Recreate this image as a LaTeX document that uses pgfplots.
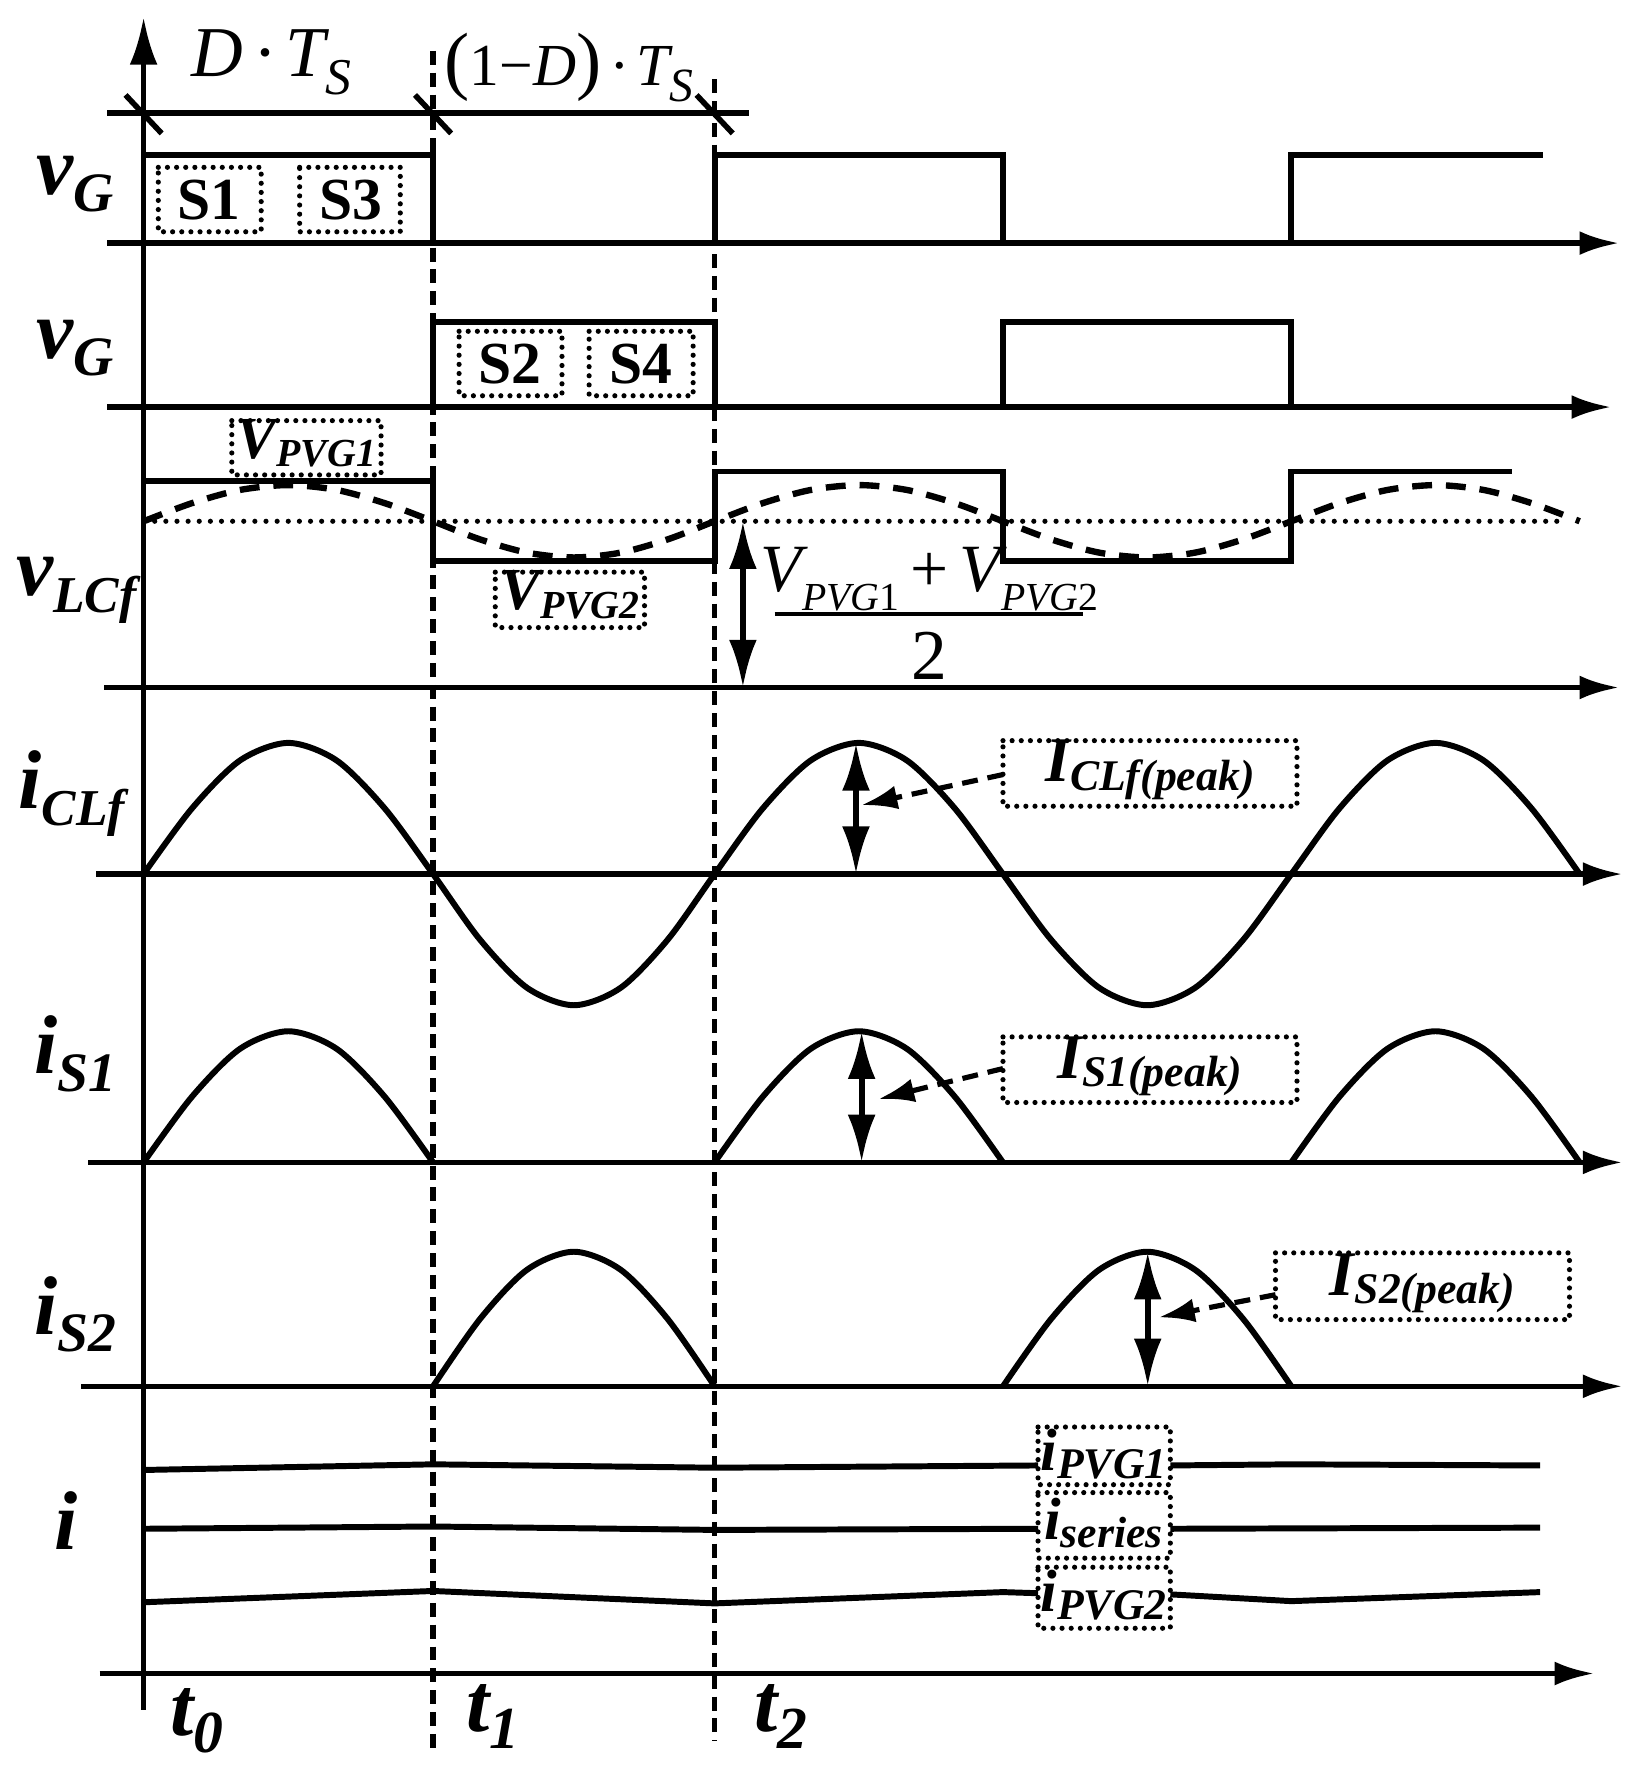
\documentclass[border=0pt]{standalone}
\usepackage{pgfplots}
\pgfplotsset{compat=1.18}
\usetikzlibrary{arrows.meta}
\usepackage{fontspec}
\setmainfont{Liberation Serif}

\newcommand{\fs}[1]{\fontsize{#1}{#1}\selectfont}
% bold italic symbol with lowered subscript
\newcommand{\sym}[4]{{\fs{#1}\bfseries\itshape #3\raisebox{-0.45ex}{\fs{#2}#4}}}
\newcommand{\bsym}[4]{{\fs{#1}\bfseries\itshape #3\raisebox{-0.3ex}{\fs{#2}#4}}}

\begin{document}
\begin{tikzpicture}
\begin{axis}[
    scale only axis,
    width=14.54cm, height=15.68cm,
    xmin=0, xmax=1454, ymin=0, ymax=1568,
    y dir=reverse,
    hide axis, clip=false,
    ax/.style={black, line width=1.4pt},
    wave/.style={black, line width=1.5pt},
    vd/.style={black, line width=1.3pt, dash pattern=on 3.5pt off 2pt},
    dotbox/.style={black, line width=1.3pt, dash pattern=on 0pt off 2.3pt, line cap=round},
    arr/.style={-{Latex[length=10pt,width=6pt]}},
    dbl/.style={black, line width=1.5pt, {Latex[length=12pt,width=7pt]}-{Latex[length=12pt,width=7pt]}},
    ptr/.style={black, line width=1.3pt, dash pattern=on 4pt off 2.5pt, -{Latex[length=9pt,width=6pt]}},
]
\addplot[draw=none] coordinates {(0,0) (1454,1568)};

% main vertical axis and time bar
\addplot[ax, -{Latex[length=12pt,width=7pt]}] coordinates {(127,1512) (127,15)};
\addplot[ax] coordinates {(95,100) (662,100)};
\addplot[ax] coordinates {(111,84) (143,118)};
\addplot[ax] coordinates {(367,84) (399,118)};
\addplot[ax] coordinates {(616,84) (648,118)};

% dashed time markers
\addplot[vd] coordinates {(383,45) (383,1552)};
\addplot[vd] coordinates {(632,70) (632,1540)};

% horizontal axes
\addplot[ax, arr] coordinates {(95,215) (1432,215)};
\addplot[ax, arr] coordinates {(95,360) (1425,360)};
\addplot[ax, arr] coordinates {(92,608) (1432,608)};
\addplot[ax, arr] coordinates {(85,773) (1435,773)};
\addplot[ax, arr] coordinates {(78,1028) (1435,1028)};
\addplot[ax, arr] coordinates {(72,1226) (1435,1226)};
\addplot[ax, arr] coordinates {(88,1480) (1410,1480)};

% gate signals
\addplot[wave] coordinates {(127,137) (383,137) (383,215) (632,215) (632,137) (887,137) (887,215) (1142,215) (1142,137) (1365,137)};
\addplot[wave] coordinates {(383,360) (383,285) (632,285) (632,360) (887,360) (887,285) (1142,285) (1142,360)};

% v_LCf
\addplot[wave] coordinates {(127,425) (383,425) (383,496) (632,496) (632,417) (887,417) (887,496) (1142,496) (1142,417) (1337,417)};
\addplot[black, line width=1.3pt, dash pattern=on 0pt off 2.8pt, line cap=round] coordinates {(127,461) (1380,461)};
\addplot[black, line width=1.6pt, dash pattern=on 5pt off 3.5pt, smooth] coordinates {
(127,461) (169.7,445) (212.3,433.3) (255,429) (297.7,433.3) (340.3,445)
(383,461) (424.5,477) (466,488.7) (507.5,493) (549,488.7) (590.5,477)
(632,461) (674.5,445) (717,433.3) (759.5,429) (802,433.3) (844.5,445)
(887,461) (929.5,477) (972,488.7) (1014.5,493) (1057,488.7) (1099.5,477)
(1142,461) (1184.5,445) (1227,433.3) (1269.5,429) (1312,433.3) (1354.5,445) (1397,461)};
\addplot[dbl] coordinates {(657,461) (657,608)};

% i_CLf
\addplot[wave, smooth] coordinates {
(127,773) (169.7,715) (212.3,672.5) (255,657) (297.7,672.5) (340.3,715)
(383,773) (424.5,831) (466,873.5) (507.5,889) (549,873.5) (590.5,831)
(632,773) (674.5,715) (717,672.5) (759.5,657) (802,672.5) (844.5,715)
(887,773) (929.5,831) (972,873.5) (1014.5,889) (1057,873.5) (1099.5,831)
(1142,773) (1184.5,715) (1227,672.5) (1269.5,657) (1312,672.5) (1354.5,715) (1397,773)};
\addplot[dbl] coordinates {(757,657) (757,773)};
\addplot[ptr] coordinates {(887,685) (762,712)};

% i_S1
\addplot[wave, smooth] coordinates {(127,1028) (169.7,970) (212.3,927.5) (255,912) (297.7,927.5) (340.3,970) (383,1028)};
\addplot[wave, smooth] coordinates {(632,1028) (674.5,970) (717,927.5) (759.5,912) (802,927.5) (844.5,970) (887,1028)};
\addplot[wave, smooth] coordinates {(1142,1028) (1184.5,970) (1227,927.5) (1269.5,912) (1312,927.5) (1354.5,970) (1397,1028)};
\addplot[dbl] coordinates {(762,912) (762,1028)};
\addplot[ptr] coordinates {(887,945) (777,972)};

% i_S2
\addplot[wave, smooth] coordinates {(383,1226) (424.5,1166.5) (466,1123) (507.5,1107) (549,1123) (590.5,1166.5) (632,1226)};
\addplot[wave, smooth] coordinates {(887,1226) (929.5,1166.5) (972,1123) (1014.5,1107) (1057,1123) (1099.5,1166.5) (1142,1226)};
\addplot[dbl] coordinates {(1015,1107) (1015,1226)};
\addplot[ptr] coordinates {(1128,1145) (1025,1165)};

% currents
\addplot[wave] coordinates {(127,1300) (383,1295) (632,1298) (918,1296)};
\addplot[wave] coordinates {(1035,1296) (1142,1295) (1362,1296)};
\addplot[wave] coordinates {(127,1352) (383,1350) (632,1353) (918,1352)};
\addplot[wave] coordinates {(1035,1352) (1362,1351)};
\addplot[wave] coordinates {(127,1417) (383,1407) (632,1418) (887,1408) (918,1409)};
\addplot[wave] coordinates {(1035,1410) (1142,1416) (1362,1408)};

% dotted boxes
\addplot[dotbox] coordinates {(140,148) (231,148) (231,205) (140,205) (140,148)};
\addplot[dotbox] coordinates {(265,148) (354,148) (354,205) (265,205) (265,148)};
\addplot[dotbox] coordinates {(406,293) (497,293) (497,350) (406,350) (406,293)};
\addplot[dotbox] coordinates {(521,293) (613,293) (613,350) (521,350) (521,293)};
\addplot[dotbox] coordinates {(205,372) (337,372) (337,420) (205,420) (205,372)};
\addplot[dotbox] coordinates {(438,506) (570,506) (570,555) (438,555) (438,506)};
\addplot[dotbox] coordinates {(887,655) (1147,655) (1147,713) (887,713) (887,655)};
\addplot[dotbox] coordinates {(887,917) (1147,917) (1147,975) (887,975) (887,917)};
\addplot[dotbox] coordinates {(1128,1108) (1388,1108) (1388,1167) (1128,1167) (1128,1108)};
\addplot[dotbox] coordinates {(918,1262) (1035,1262) (1035,1313) (918,1313) (918,1262)};
\addplot[dotbox] coordinates {(918,1320) (1035,1320) (1035,1378) (918,1378) (918,1320)};
\addplot[dotbox] coordinates {(918,1386) (1035,1386) (1035,1440) (918,1440) (918,1386)};

% texts
\node at (axis cs:240,55) {\fs{18}\itshape D\,·\,T\raisebox{-0.55ex}{\fs{13}S}};
\node at (axis cs:503,60) {\fs{15}{\fs{19}(}1−\itshape D{\fs{19}\upshape)}\,·\,T\raisebox{-0.55ex}{\fs{12}S}};

\node[anchor=west] at (axis cs:20,163) {\sym{21}{14}{v}{G}};
\node[anchor=west] at (axis cs:20,308) {\sym{21}{14}{v}{G}};
\node[anchor=west] at (axis cs:2,522) {\sym{21}{13}{v}{LCf}};
\node[anchor=west] at (axis cs:4,702) {\sym{21}{13}{i}{CLf}};
\node[anchor=west] at (axis cs:18,932) {\sym{21}{14}{i}{S1}};
\node[anchor=west] at (axis cs:18,1162) {\sym{21}{14}{i}{S2}};
\node[anchor=west] at (axis cs:36,1352) {\sym{21}{14}{i}{}};
\node[anchor=west] at (axis cs:138,1522) {\sym{21}{15}{t}{0}};
\node[anchor=west] at (axis cs:400,1518) {\sym{21}{15}{t}{1}};
\node[anchor=west] at (axis cs:655,1518) {\sym{21}{15}{t}{2}};

\node at (axis cs:185,177) {\fs{15}\bfseries S1};
\node at (axis cs:310,177) {\fs{15}\bfseries S3};
\node at (axis cs:451,322) {\fs{15}\bfseries S2};
\node at (axis cs:567,322) {\fs{15}\bfseries S4};

\node at (axis cs:271,392) {\bsym{15}{10}{V}{PVG1}};
\node at (axis cs:504,526) {\bsym{15}{10}{V}{PVG2}};
\node at (axis cs:1017,681) {\bsym{16}{11}{I}{CLf(peak)}};
\node at (axis cs:1017,943) {\bsym{16}{11}{I}{S1(peak)}};
\node at (axis cs:1258,1135) {\bsym{16}{11}{I}{S2(peak)}};
\node at (axis cs:976,1286) {\bsym{15}{11}{i}{PVG1}};
\node at (axis cs:976,1347) {\bsym{15}{11}{i}{series}};
\node at (axis cs:976,1411) {\bsym{15}{11}{i}{PVG2}};

% fraction label
\node[inner sep=0pt] at (axis cs:822,512) {\fs{17}\itshape V\raisebox{-0.6ex}{\fs{10}PVG}\raisebox{-0.6ex}{\fs{10}\upshape 1}\,\upshape+\,\itshape V\raisebox{-0.6ex}{\fs{10}PVG}\raisebox{-0.6ex}{\fs{10}\upshape 2}};
\addplot[black, line width=0.8pt] coordinates {(685,543) (958,543)};
\node at (axis cs:822,580) {\fs{18}2};
\end{axis}
\end{tikzpicture}
\end{document}
